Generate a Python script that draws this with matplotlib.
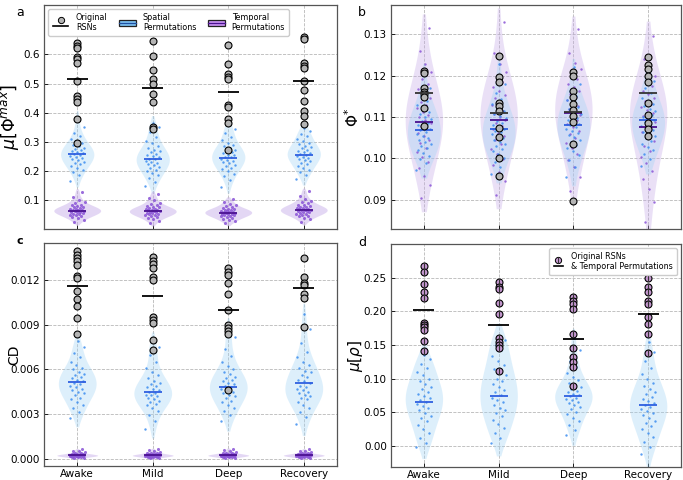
import numpy as np
import matplotlib
matplotlib.use("Agg")
import matplotlib.pyplot as plt
from matplotlib.lines import Line2D
from matplotlib.patches import Rectangle
from matplotlib.legend_handler import HandlerBase

conditions = ["Awake", "Mild", "Deep", "Recovery"]

# ---------------- Panel a : mu[Phi^max] ----------------
a_rsn = [
    [0.638, 0.629, 0.621, 0.592, 0.583, 0.572, 0.508, 0.456, 0.446, 0.437, 0.379, 0.295],
    [0.646, 0.595, 0.546, 0.514, 0.500, 0.463, 0.437, 0.351, 0.345],
    [0.634, 0.566, 0.532, 0.523, 0.515, 0.425, 0.420, 0.379, 0.364, 0.270],
    [0.661, 0.653, 0.572, 0.561, 0.552, 0.508, 0.479, 0.440, 0.405, 0.387, 0.360],
]
a_rsn_mean = [0.514, 0.485, 0.470, 0.508]
a_spatial = [
    [0.166, 0.184, 0.196, 0.204, 0.211, 0.217, 0.222, 0.227, 0.232, 0.236, 0.240, 0.244, 0.248, 0.251, 0.255, 0.258,
     0.261, 0.264, 0.268, 0.271, 0.275, 0.279, 0.284, 0.289, 0.295, 0.301, 0.309, 0.318, 0.331, 0.350, 0.385],
    [0.147, 0.162, 0.175, 0.184, 0.191, 0.198, 0.204, 0.209, 0.214, 0.219, 0.223, 0.227, 0.231, 0.235, 0.239, 0.242,
     0.246, 0.250, 0.254, 0.258, 0.263, 0.268, 0.273, 0.279, 0.286, 0.294, 0.304, 0.316, 0.332, 0.350, 0.366],
    [0.146, 0.168, 0.181, 0.190, 0.198, 0.205, 0.211, 0.216, 0.221, 0.226, 0.230, 0.234, 0.238, 0.242, 0.246, 0.249,
     0.253, 0.256, 0.260, 0.264, 0.268, 0.273, 0.278, 0.284, 0.290, 0.297, 0.306, 0.317, 0.330, 0.345, 0.357],
    [0.171, 0.186, 0.196, 0.204, 0.211, 0.217, 0.223, 0.228, 0.233, 0.237, 0.241, 0.245, 0.249, 0.252, 0.256, 0.259,
     0.262, 0.266, 0.269, 0.273, 0.277, 0.281, 0.286, 0.291, 0.297, 0.303, 0.310, 0.318, 0.327, 0.337, 0.348],
]
a_spatial_mean = [0.259, 0.239, 0.245, 0.255]
a_temporal = [
    [0.024, 0.032, 0.037, 0.041, 0.044, 0.047, 0.049, 0.051, 0.053, 0.055, 0.057, 0.058, 0.060, 0.061, 0.063, 0.064,
     0.066, 0.067, 0.069, 0.070, 0.072, 0.074, 0.076, 0.078, 0.081, 0.084, 0.088, 0.093, 0.100, 0.110, 0.128],
    [0.020, 0.029, 0.035, 0.039, 0.042, 0.045, 0.047, 0.049, 0.051, 0.053, 0.055, 0.056, 0.058, 0.059, 0.061, 0.062,
     0.064, 0.065, 0.067, 0.068, 0.070, 0.072, 0.074, 0.076, 0.079, 0.082, 0.086, 0.091, 0.098, 0.107, 0.120],
    [0.020, 0.027, 0.032, 0.035, 0.038, 0.041, 0.043, 0.045, 0.047, 0.049, 0.050, 0.052, 0.053, 0.055, 0.056, 0.057,
     0.059, 0.060, 0.062, 0.063, 0.065, 0.066, 0.068, 0.070, 0.072, 0.075, 0.078, 0.082, 0.087, 0.093, 0.102],
    [0.025, 0.033, 0.039, 0.043, 0.046, 0.049, 0.051, 0.053, 0.055, 0.057, 0.059, 0.061, 0.062, 0.064, 0.065, 0.067,
     0.068, 0.070, 0.071, 0.073, 0.075, 0.077, 0.079, 0.082, 0.084, 0.088, 0.092, 0.097, 0.104, 0.114, 0.130],
]
a_temporal_mean = [0.063, 0.061, 0.056, 0.065]

# ---------------- Panel b : Phi* ----------------
b_rsn = [
    [0.1212, 0.1206, 0.1169, 0.1161, 0.1155, 0.1149, 0.1121, 0.1078],
    [0.1248, 0.1196, 0.1185, 0.1133, 0.1127, 0.1115, 0.1074, 0.1051, 0.1000, 0.0958],
    [0.1210, 0.1198, 0.1163, 0.1149, 0.1131, 0.1117, 0.1103, 0.1089, 0.1034, 0.0897],
    [0.1244, 0.1227, 0.1216, 0.1199, 0.1184, 0.1135, 0.1106, 0.1085, 0.1071, 0.1054],
]
b_rsn_mean = [0.1159, 0.1110, 0.1111, 0.1157]
b_temporal = [
    [0.0905, 0.0935, 0.0958, 0.0976, 0.0991, 0.1004, 0.1016, 0.1026, 0.1036, 0.1045, 0.1054, 0.1062, 0.1070, 0.1078,
     0.1085, 0.1092, 0.1099, 0.1106, 0.1113, 0.1121, 0.1129, 0.1137, 0.1146, 0.1156, 0.1167, 0.1179, 0.1193, 0.1209,
     0.1228, 0.1260, 0.1315],
    [0.0912, 0.0945, 0.0966, 0.0983, 0.0998, 0.1011, 0.1023, 0.1034, 0.1044, 0.1053, 0.1062, 0.1070, 0.1078, 0.1086,
     0.1093, 0.1100, 0.1107, 0.1114, 0.1121, 0.1129, 0.1137, 0.1145, 0.1154, 0.1163, 0.1173, 0.1184, 0.1196, 0.1210,
     0.1228, 0.1256, 0.1330],
    [0.0921, 0.0955, 0.0978, 0.0996, 0.1011, 0.1025, 0.1037, 0.1048, 0.1058, 0.1067, 0.1076, 0.1084, 0.1092, 0.1099,
     0.1106, 0.1113, 0.1120, 0.1127, 0.1134, 0.1141, 0.1148, 0.1156, 0.1164, 0.1172, 0.1181, 0.1191, 0.1202, 0.1215,
     0.1231, 0.1255, 0.1312],
    [0.0845, 0.0895, 0.0925, 0.0950, 0.0970, 0.0988, 0.1003, 0.1017, 0.1030, 0.1042, 0.1053, 0.1063, 0.1072, 0.1080,
     0.1088, 0.1096, 0.1103, 0.1110, 0.1117, 0.1124, 0.1131, 0.1139, 0.1147, 0.1155, 0.1164, 0.1174, 0.1185, 0.1198,
     0.1215, 0.1240, 0.1295],
]
b_temporal_mean = [0.1087, 0.1093, 0.1109, 0.1077]
b_spatial = [
    [0.0972, 0.0988, 0.0998, 0.1006, 0.1013, 0.1019, 0.1025, 0.1030, 0.1035, 0.1040, 0.1045, 0.1050, 0.1054, 0.1059,
     0.1063, 0.1068, 0.1072, 0.1077, 0.1081, 0.1086, 0.1091, 0.1096, 0.1101, 0.1107, 0.1113, 0.1120, 0.1128, 0.1138,
     0.1151, 0.1170, 0.1210],
    [0.0962, 0.0980, 0.0992, 0.1002, 0.1010, 0.1017, 0.1023, 0.1029, 0.1034, 0.1039, 0.1044, 0.1049, 0.1054, 0.1058,
     0.1063, 0.1067, 0.1072, 0.1077, 0.1081, 0.1086, 0.1091, 0.1097, 0.1102, 0.1108, 0.1115, 0.1123, 0.1132, 0.1143,
     0.1158, 0.1180, 0.1228],
    [0.0955, 0.0980, 0.0995, 0.1007, 0.1017, 0.1025, 0.1032, 0.1039, 0.1045, 0.1051, 0.1056, 0.1061, 0.1066, 0.1071,
     0.1075, 0.1080, 0.1084, 0.1089, 0.1093, 0.1098, 0.1103, 0.1108, 0.1113, 0.1119, 0.1125, 0.1132, 0.1140, 0.1150,
     0.1162, 0.1180, 0.1220],
    [0.0982, 0.0998, 0.1010, 0.1020, 0.1028, 0.1035, 0.1042, 0.1048, 0.1054, 0.1059, 0.1064, 0.1069, 0.1074, 0.1078,
     0.1083, 0.1087, 0.1092, 0.1096, 0.1101, 0.1105, 0.1110, 0.1115, 0.1120, 0.1126, 0.1132, 0.1139, 0.1147, 0.1157,
     0.1170, 0.1186, 0.1212],
]
b_spatial_mean = [0.1069, 0.1070, 0.1080, 0.1093]

# ---------------- Panel c : CD ----------------
c_rsn = [
    [0.01397, 0.01370, 0.01348, 0.01326, 0.01303, 0.01231, 0.01213, 0.01130, 0.01072, 0.01027, 0.00944, 0.00837],
    [0.01353, 0.01332, 0.01308, 0.01281, 0.01218, 0.01202, 0.00951, 0.00933, 0.00911, 0.00798, 0.00727],
    [0.01285, 0.01258, 0.01236, 0.01180, 0.01106, 0.01000, 0.00900, 0.00877, 0.00855, 0.00839, 0.00458],
    [0.01348, 0.01218, 0.01184, 0.01169, 0.01108, 0.01083, 0.00884],
]
c_rsn_mean = [0.01164, 0.01092, 0.01000, 0.01146]
c_spatial = [
    [0.0027, 0.0031, 0.0034, 0.0036, 0.0038, 0.0040, 0.0041, 0.0043, 0.0044, 0.0045, 0.0046, 0.0047, 0.0048, 0.0049,
     0.0050, 0.0051, 0.0052, 0.0053, 0.0054, 0.0055, 0.0056, 0.0057, 0.0058, 0.0060, 0.0061, 0.0063, 0.0065, 0.0068,
     0.0071, 0.0075, 0.0079],
    [0.0020, 0.0025, 0.0029, 0.0032, 0.0034, 0.0036, 0.0037, 0.0038, 0.0039, 0.0040, 0.0041, 0.0042, 0.0043, 0.0043,
     0.0044, 0.0045, 0.0046, 0.0047, 0.0048, 0.0049, 0.0050, 0.0051, 0.0052, 0.0054, 0.0056, 0.0058, 0.0061, 0.0065,
     0.0070, 0.0075, 0.0079],
    [0.0025, 0.0029, 0.0032, 0.0034, 0.0036, 0.0038, 0.0039, 0.0041, 0.0042, 0.0043, 0.0044, 0.0045, 0.0046, 0.0047,
     0.0048, 0.0049, 0.0050, 0.0051, 0.0052, 0.0053, 0.0054, 0.0055, 0.0057, 0.0058, 0.0060, 0.0062, 0.0065, 0.0069,
     0.0074, 0.0082, 0.0088],
    [0.0023, 0.0028, 0.0031, 0.0034, 0.0036, 0.0038, 0.0040, 0.0041, 0.0042, 0.0043, 0.0044, 0.0045, 0.0046, 0.0047,
     0.0048, 0.0049, 0.0051, 0.0052, 0.0053, 0.0055, 0.0056, 0.0058, 0.0059, 0.0061, 0.0063, 0.0065, 0.0068, 0.0072,
     0.0078, 0.0087, 0.0097],
]
c_spatial_mean = [0.00516, 0.00449, 0.00482, 0.00507]
c_temporal = [
    [0.00002, 0.00006, 0.00009, 0.00011, 0.00013, 0.00014, 0.00015, 0.00016, 0.00017, 0.00018, 0.00019, 0.00020,
     0.00021, 0.00021, 0.00022, 0.00023, 0.00024, 0.00025, 0.00026, 0.00027, 0.00028, 0.00029, 0.00030, 0.00032,
     0.00034, 0.00036, 0.00039, 0.00043, 0.00048, 0.00054, 0.00062],
    [0.00001, 0.00005, 0.00008, 0.00010, 0.00012, 0.00013, 0.00015, 0.00016, 0.00017, 0.00018, 0.00019, 0.00020,
     0.00020, 0.00021, 0.00022, 0.00023, 0.00024, 0.00025, 0.00026, 0.00027, 0.00028, 0.00029, 0.00031, 0.00033,
     0.00035, 0.00037, 0.00040, 0.00044, 0.00049, 0.00055, 0.00063],
    [0.00002, 0.00005, 0.00008, 0.00010, 0.00012, 0.00014, 0.00015, 0.00016, 0.00017, 0.00018, 0.00019, 0.00020,
     0.00021, 0.00022, 0.00022, 0.00023, 0.00024, 0.00025, 0.00026, 0.00027, 0.00028, 0.00030, 0.00031, 0.00033,
     0.00035, 0.00037, 0.00040, 0.00044, 0.00049, 0.00056, 0.00065],
    [0.00002, 0.00006, 0.00009, 0.00011, 0.00012, 0.00014, 0.00015, 0.00016, 0.00017, 0.00018, 0.00019, 0.00020,
     0.00021, 0.00022, 0.00022, 0.00023, 0.00024, 0.00025, 0.00026, 0.00027, 0.00028, 0.00029, 0.00031, 0.00032,
     0.00034, 0.00036, 0.00039, 0.00043, 0.00048, 0.00054, 0.00061],
]
c_temporal_mean = [0.00022, 0.00022, 0.00022, 0.00022]

# ---------------- Panel d : mu[rho] ----------------
d_rsn = [
    [0.2673, 0.2589, 0.2401, 0.2283, 0.2194, 0.1833, 0.1798, 0.1764, 0.1724, 0.1566, 0.1418],
    [0.2431, 0.2357, 0.2332, 0.2120, 0.1957, 0.1601, 0.1550, 0.1502, 0.1453, 0.1122],
    [0.2218, 0.2159, 0.2110, 0.2036, 0.1665, 0.1453, 0.1319, 0.1255, 0.1181, 0.0894],
    [0.2490, 0.2357, 0.2292, 0.2154, 0.2110, 0.1912, 0.1813, 0.1670, 0.1378],
]
d_rsn_mean = [0.2021, 0.1803, 0.1586, 0.1961]
d_spatial = [
    [-0.002, 0.004, 0.012, 0.020, 0.026, 0.032, 0.037, 0.041, 0.045, 0.049, 0.053, 0.056, 0.060, 0.063, 0.066, 0.069,
     0.072, 0.075, 0.078, 0.081, 0.085, 0.088, 0.092, 0.096, 0.100, 0.105, 0.110, 0.116, 0.122, 0.129, 0.135],
    [0.005, 0.012, 0.020, 0.027, 0.033, 0.039, 0.044, 0.049, 0.053, 0.057, 0.061, 0.065, 0.069, 0.072, 0.076, 0.080,
     0.084, 0.088, 0.092, 0.096, 0.100, 0.105, 0.110, 0.115, 0.121, 0.127, 0.134, 0.142, 0.150, 0.157, 0.163],
    [0.016, 0.024, 0.031, 0.037, 0.042, 0.047, 0.051, 0.055, 0.058, 0.061, 0.064, 0.066, 0.068, 0.070, 0.072, 0.074,
     0.076, 0.078, 0.080, 0.082, 0.085, 0.088, 0.091, 0.094, 0.098, 0.103, 0.109, 0.117, 0.127, 0.142, 0.160],
    [-0.012, -0.002, 0.006, 0.013, 0.019, 0.025, 0.030, 0.034, 0.038, 0.042, 0.046, 0.049, 0.052, 0.055, 0.058, 0.061,
     0.064, 0.067, 0.070, 0.073, 0.077, 0.081, 0.085, 0.089, 0.094, 0.100, 0.107, 0.116, 0.127, 0.140, 0.155],
]
d_spatial_mean = [0.0657, 0.0746, 0.0746, 0.0603]

# ---------------- styling ----------------
SP_FILL, SP_PT, SP_MEAN = "#9fd3f5", "#3d8ef0", "#2f5fe0"
TP_FILL, TP_PT, TP_MEAN = "#c3a8e8", "#8a55d6", "#4a1190"
RSN_FC = "#b4b4b4"
D_FC = "#c497cf"


def violin(ax, pos, data, half, color, alpha, z=1, bwf=0.45, cut=1.0):
    d = np.asarray(data, float)
    h = bwf * d.std(ddof=1)
    ys = np.linspace(d.min() - cut * h, d.max() + cut * h, 300)
    dens = np.exp(-0.5 * ((ys[:, None] - d[None, :]) / h) ** 2).sum(1)
    dens = dens / dens.max() * half
    ax.fill_betweenx(ys, pos - dens, pos + dens, color=color, alpha=alpha, lw=0, zorder=z)


def jitter_points(ax, pos, data, color, spread=0.1, s=3, z=2, phase=0.0):
    n = len(data)
    off = ((np.arange(n) * 0.6180339 + phase) % 1.0 - 0.5) * 2 * spread
    ax.scatter(pos + off, data, s=s, color=color, lw=0, alpha=0.85, zorder=z)


def hline(ax, pos, y, color, half=0.13, lw=1.3, z=5):
    ax.plot([pos - half, pos + half], [y, y], color=color, lw=lw, zorder=z, solid_capstyle="butt")


def style(ax):
    ax.grid(True, ls="--", color="#b8b8b8", lw=0.6)
    ax.set_axisbelow(True)
    ax.tick_params(direction="in", labelsize=7.5, length=3, width=0.6, pad=3)
    ax.tick_params(axis="x", pad=2)
    for sp in ax.spines.values():
        sp.set_color("#555555")
        sp.set_linewidth(0.9)
    ax.set_xticks(range(4))
    ax.set_xlim(-0.44, 3.44)


fig = plt.figure(figsize=(6.83, 4.8), dpi=100)
W, H = 683.0, 480.0
axa = fig.add_axes([44 / W, 1 - 229 / H, 293 / W, 224 / H])
axb = fig.add_axes([391 / W, 1 - 229 / H, 290 / W, 224 / H])
axc = fig.add_axes([44 / W, 1 - 466 / H, 293 / W, 223 / H])
axd = fig.add_axes([391 / W, 1 - 467 / H, 290 / W, 223 / H])

pos = np.arange(len(conditions))

# panel a
for i in pos:
    violin(axa, i, a_spatial[i], 0.22, SP_FILL, 0.35)
    violin(axa, i, a_temporal[i], 0.31, TP_FILL, 0.45)
    jitter_points(axa, i, a_spatial[i], SP_PT, spread=0.1, s=3)
    jitter_points(axa, i, a_temporal[i], TP_PT, spread=0.1, s=5, phase=0.3)
    hline(axa, i, a_spatial_mean[i], SP_MEAN, half=0.12, z=3)
    hline(axa, i, a_temporal_mean[i], TP_MEAN, half=0.12, z=3)
    axa.plot([i] * len(a_rsn[i]), a_rsn[i], "o", ms=5, mfc=RSN_FC, mec="black", mew=0.8, zorder=4, ls="none")
    hline(axa, i, a_rsn_mean[i], "black", half=0.14)
style(axa)
axa.set_ylim(0.0, 0.77)
axa.set_yticks([0.1, 0.2, 0.3, 0.4, 0.5, 0.6])
axa.set_yticklabels(["0.1", "0.2", "0.3", "0.4", "0.5", "0.6"])
axa.set_xticklabels([])
axa.set_ylabel(r"$\mu[\Phi^{max}]$", fontsize=12.5)
axa.yaxis.set_label_coords(-0.08, 0.5)

# panel b
for i in pos:
    violin(axb, i, b_temporal[i], 0.25, TP_FILL, 0.35, bwf=0.6, cut=0.6)
    violin(axb, i, b_spatial[i], 0.22, SP_FILL, 0.35, bwf=0.6, cut=0.6)
    jitter_points(axb, i, b_temporal[i], TP_PT, spread=0.1, s=3, phase=0.3)
    jitter_points(axb, i, b_spatial[i], SP_PT, spread=0.1, s=3)
    hline(axb, i, b_spatial_mean[i], SP_MEAN, half=0.12, z=3)
    hline(axb, i, b_temporal_mean[i], TP_MEAN, half=0.12, z=3)
    axb.plot([i] * len(b_rsn[i]), b_rsn[i], "o", ms=5, mfc=RSN_FC, mec="black", mew=0.8, zorder=4, ls="none")
    hline(axb, i, b_rsn_mean[i], "#333333", half=0.12)
style(axb)
axb.set_ylim(0.0829, 0.1371)
axb.set_yticks([0.09, 0.10, 0.11, 0.12, 0.13])
axb.set_yticklabels(["0.09", "0.10", "0.11", "0.12", "0.13"])
axb.set_xticklabels([])
axb.set_ylabel(r"$\Phi^{*}$", fontsize=11)
axb.yaxis.set_label_coords(-0.10, 0.5)

# panel c
for i in pos:
    violin(axc, i, c_spatial[i], 0.25, SP_FILL, 0.35)
    violin(axc, i, c_temporal[i], 0.27, TP_FILL, 0.45)
    jitter_points(axc, i, c_spatial[i], SP_PT, spread=0.1, s=3)
    jitter_points(axc, i, c_temporal[i], TP_PT, spread=0.1, s=5, phase=0.3)
    hline(axc, i, c_spatial_mean[i], SP_MEAN, half=0.12, z=3)
    hline(axc, i, c_temporal_mean[i], TP_MEAN, half=0.12, z=3)
    axc.plot([i] * len(c_rsn[i]), c_rsn[i], "o", ms=5, mfc=RSN_FC, mec="black", mew=0.8, zorder=4, ls="none")
    hline(axc, i, c_rsn_mean[i], "black", half=0.14)
style(axc)
axc.set_ylim(-0.0005, 0.0145)
axc.set_yticks([0.0, 0.003, 0.006, 0.009, 0.012])
axc.set_yticklabels(["0.000", "0.003", "0.006", "0.009", "0.012"])
axc.set_xticklabels(conditions, fontsize=7.5)
axc.set_ylabel("CD", fontsize=10)
axc.yaxis.set_label_coords(-0.078, 0.5)

# panel d
for i in pos:
    violin(axd, i, d_spatial[i], 0.25, SP_FILL, 0.35)
    jitter_points(axd, i, d_spatial[i], SP_PT, spread=0.1, s=3)
    hline(axd, i, d_spatial_mean[i], SP_MEAN, half=0.12, z=3)
    axd.plot([i] * len(d_rsn[i]), d_rsn[i], "o", ms=5, mfc=D_FC, mec="black", mew=0.8, zorder=4, ls="none")
    axd.plot([i] * len(d_rsn[i]), d_rsn[i], "|", ms=5, mec="#333333", mew=0.8, zorder=4.5, ls="none")
    hline(axd, i, d_rsn_mean[i], "black", half=0.14)
style(axd)
axd.set_ylim(-0.031, 0.30)
axd.set_yticks([0.0, 0.05, 0.10, 0.15, 0.20, 0.25])
axd.set_yticklabels(["0.00", "0.05", "0.10", "0.15", "0.20", "0.25"])
axd.set_xticklabels(conditions, fontsize=7.5)
axd.set_ylabel(r"$\mu[\rho]$", fontsize=11)
axd.yaxis.set_label_coords(-0.09, 0.5)


# legends
class HCircLine(HandlerBase):
    def __init__(self, fc, bar=False):
        super().__init__()
        self.fc, self.bar = fc, bar

    def create_artists(self, legend, orig, xd, yd, w, h, fs, trans):
        cx, cy = 0.5 * w - xd, 0.95 * h - yd
        arts = [Line2D([cx], [cy], marker="o", ms=4.5, mfc=self.fc, mec="black", mew=0.7, ls="none",
                       transform=trans)]
        if self.bar:
            arts.append(Line2D([cx], [cy], marker="|", ms=4.5, mec="#333333", mew=0.7, ls="none", transform=trans))
        arts.append(Line2D([0.05 * w - xd, 0.95 * w - xd], [-0.05 * h - yd] * 2, color="black", lw=1.2,
                           transform=trans))
        return arts


class HBox(HandlerBase):
    def __init__(self, fc, lc):
        super().__init__()
        self.fc, self.lc = fc, lc

    def create_artists(self, legend, orig, xd, yd, w, h, fs, trans):
        r = Rectangle((-xd, -yd - 0.05 * h), w, 1.1 * h, facecolor=self.fc, edgecolor="#222222", lw=0.9,
                      transform=trans)
        l = Line2D([-xd, w - xd], [0.5 * h - yd] * 2, color=self.lc, lw=0.9, transform=trans)
        return [r, l]


class Key:
    def __init__(self, k):
        self.k = k


k1, k2, k3 = Key(1), Key(2), Key(3)
leg = axa.legend([k1, k2, k3], ["Original\nRSNs", "Spatial\nPermutations", "Temporal\nPermutations"],
                 handler_map={k1: HCircLine(RSN_FC), k2: HBox("#7cc0f2", "#1f4fa0"), k3: HBox("#c790f2", "#4a1190")},
                 loc="upper left", ncol=3, fontsize=5.8, handlelength=2.2, columnspacing=1.4, handletextpad=0.8,
                 borderpad=0.45, framealpha=1, edgecolor="#cccccc", bbox_to_anchor=(0.0, 1.0))
leg.set_zorder(10)

k4 = Key(4)
legd = axd.legend([k4], ["Original RSNs\n& Temporal Permutations"], handler_map={k4: HCircLine(D_FC, bar=True)},
                  loc="upper right", fontsize=5.8, handlelength=1.2, handletextpad=1.0, borderpad=0.5,
                  framealpha=1, edgecolor="#cccccc", bbox_to_anchor=(1.0, 1.0))
legd.set_zorder(10)

# panel letters
fig.text(20 / W, 1 - 6 / H, "a", fontsize=9, va="top", ha="center")
fig.text(362 / W, 1 - 6 / H, "b", fontsize=9, va="top", ha="center")
fig.text(20 / W, 1 - 236 / H, "c", fontsize=8, va="top", ha="center", fontweight="bold")
fig.text(362 / W, 1 - 236 / H, "d", fontsize=9, va="top", ha="center")

fig.savefig("out.png", dpi=100)
